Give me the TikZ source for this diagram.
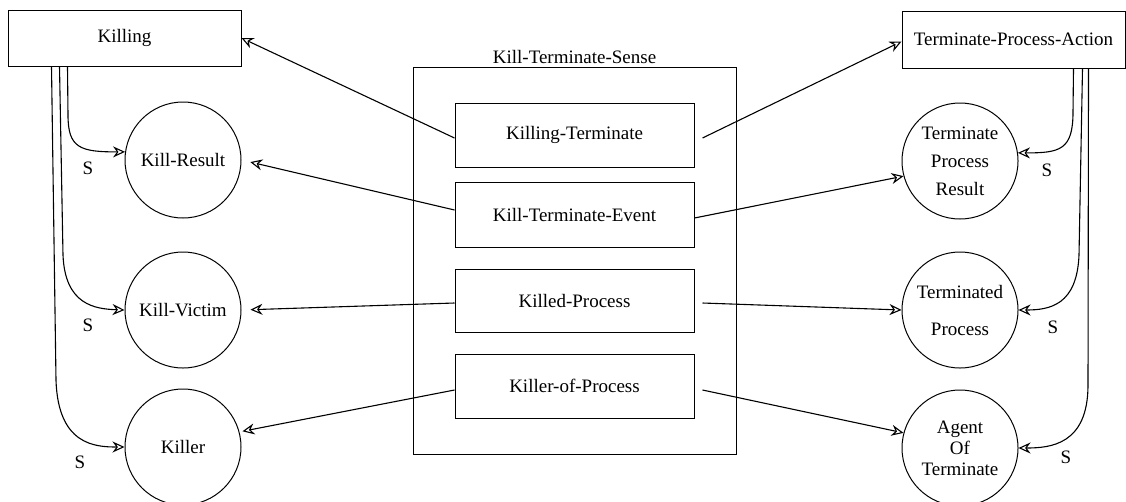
\documentclass[tikz,border=0pt]{standalone}
\usepackage{fontspec}
\setmainfont{Liberation Serif}
\newfontfamily\tnr{Liberation Serif}
\usetikzlibrary{arrows.meta}
\begin{document}
\begin{tikzpicture}[x=1pt,y=-1pt,
 every node/.style={font=\tnr\fontsize{19}{28}\selectfont},
 box/.style={draw,line width=1pt,inner sep=0pt,align=center},
 circ/.style={draw,circle,line width=1pt,minimum size=116pt,inner sep=0pt,align=center},
 arr/.style={line width=1.1pt,-{Stealth[open,length=12pt,width=11pt,inset=4pt]}},
 lab/.style={inner sep=0pt}]
\useasboundingbox (0,0) rectangle (1126,501);
% boxes
\node[box,minimum width=233pt,minimum height=56pt] (killing) at (124.5,38) {Killing};
\node[box,minimum width=223pt,minimum height=57pt] (tpa) at (1013.5,39.5) {Terminate-Process-Action};
\node[box,minimum width=323pt,minimum height=387pt] (sense) at (574.5,260.5) {};
\node[lab,anchor=south] (senselab) at ([yshift=3pt]sense.north) {Kill-Terminate-Sense};
\node[box,minimum width=239pt,minimum height=64pt] (kt) at (574.5,135) {Killing-Terminate};
\node[box,minimum width=239pt,minimum height=65pt] (kte) at (574.5,214.5) {Kill-Terminate-Event};
\node[box,minimum width=239pt,minimum height=63pt] (kp) at (574.5,300.5) {Killed-Process};
\node[box,minimum width=239pt,minimum height=64pt] (kop) at (574.5,386) {Killer-of-Process};
% circles
\node[circ] (kr) at (183,160) {Kill-Result};
\node[circ] (kv) at (183,310) {Kill-Victim};
\node[circ] (killer) at (183,447) {Killer};
\node[circ] (tpr) at (960,161) {Terminate\\Process\\Result};
\node[circ,font=\tnr\fontsize{19}{37}\selectfont] (tp) at (960,310) {Terminated\\Process};
\node[circ,font=\tnr\fontsize{19}{21}\selectfont] (agent) at (960,448) {Agent\\Of\\Terminate};
% center arrows
\draw[arr] ([yshift=-3pt]kt.west) -- (killing.east);
\draw[arr] ([xshift=8pt,yshift=-3pt]kt.east) -- ([yshift=-2pt]tpa.west);
\draw[arr,shorten >=9pt] ([yshift=4.5pt]kte.west) -- (kr.east);
\draw[arr] ([yshift=-3.5pt]kte.east) -- (tpr.195);
\draw[arr,shorten >=9pt] ([yshift=-2.5pt]kp.west) -- (kv.east);
\draw[arr] ([xshift=8pt,yshift=-2.5pt]kp.east) -- (tp.west);
\draw[arr,shorten >=3pt] ([yshift=-4pt]kop.west) -- (killer.15);
\draw[arr] ([xshift=8pt,yshift=-4pt]kop.east) -- (agent.165);
% left S curves
\draw[arr] ([xshift=60pt]killing.south west) -- (68,115) .. controls (68,148) and (80,152) .. (kr.172);
\draw[arr] ([xshift=52pt]killing.south west) -- (63,255) .. controls (65,305) and (95,309) .. (kv.west);
\draw[arr] ([xshift=44pt]killing.south west) -- (56,380) .. controls (58,445) and (95,447) .. (killer.west);
\node[lab] (s1) at (88,168) {S};
\node[lab] (s2) at (88,325) {S};
\node[lab] (s3) at (80,462) {S};
% right S curves
\draw[arr] ([xshift=-52pt]tpa.south east) -- (1073,112) .. controls (1073,150) and (1060,153) .. (tpr.8);
\draw[arr] ([xshift=-43pt]tpa.south east) -- (1079,255) .. controls (1077,305) and (1050,310) .. (tp.east);
\draw[arr] ([xshift=-37pt]tpa.south east) -- (1088,385) .. controls (1088,445) and (1050,448) .. (agent.east);
\node[lab] (s4) at (1047,170) {S};
\node[lab] (s5) at (1053,327) {S};
\node[lab] (s6) at (1066,457) {S};
\end{tikzpicture}
\end{document}
